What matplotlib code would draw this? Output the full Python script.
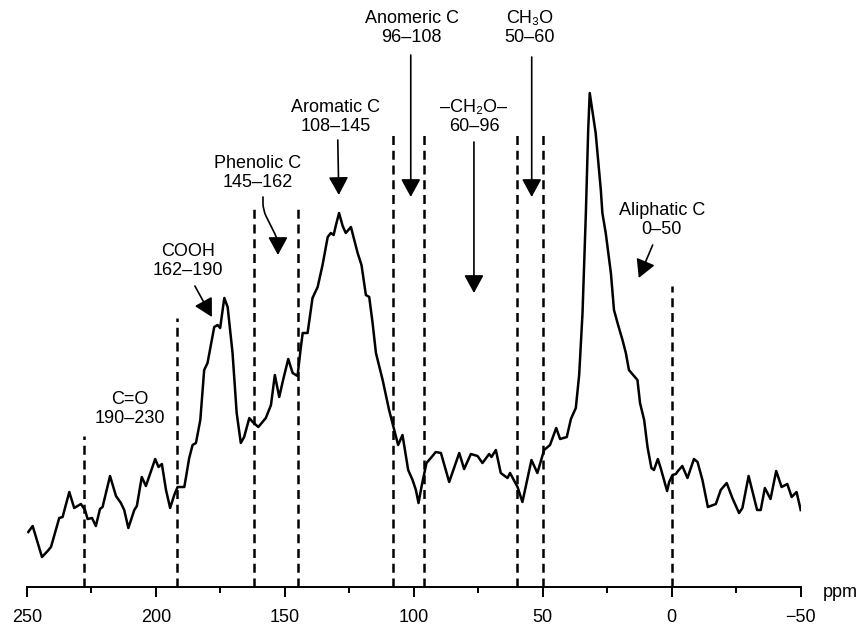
import numpy as np
import matplotlib
matplotlib.use("Agg")
import matplotlib.pyplot as plt
from matplotlib.ticker import MultipleLocator

plt.rcParams['font.family'] = ['Liberation Sans', 'DejaVu Sans']

# spectrum (chemical shift, intensity in arbitrary units)
ppm = [249.5, 247.8, 244.2, 242.0, 240.7, 237.5, 236.2, 233.6, 231.7, 229.1,
       227.5, 226.5, 224.8, 223.3, 221.7, 220.7, 217.8, 215.5, 213.6, 212.3,
       210.7, 208.4, 207.4, 205.5, 203.9, 200.3, 199.0, 197.7, 196.1, 194.5,
       192.9, 191.6, 189.0, 187.1, 185.8, 184.5, 182.8, 181.3, 180.0, 177.4,
       176.1, 175.1, 173.5, 172.2, 170.3, 168.7, 167.1, 165.8, 163.8, 162.5,
       160.3, 157.4, 155.4, 153.9, 152.2, 150.7, 148.7, 147.0, 145.1, 143.8,
       143.1, 141.2, 139.3, 137.3, 135.4, 133.4, 132.2, 131.1, 130.2, 129.0,
       127.6, 126.4, 124.4, 123.1, 121.8, 120.3, 118.6, 117.3, 116.0, 114.7,
       112.1, 109.6, 107.6, 106.1, 104.4, 102.2, 100.5, 99.2, 98.2, 96.9,
       95.1, 93.1, 91.5, 89.5, 86.3, 82.4, 80.5, 77.9, 75.3, 73.4,
       70.8, 69.9, 68.2, 66.3, 63.7, 62.7, 59.8, 57.9, 54.4, 52.1,
       49.5, 47.2, 44.8, 43.3, 40.7, 39.1, 37.2, 35.9, 34.6, 33.3,
       32.4, 31.8, 31.0, 29.5, 27.5, 26.9, 25.6, 23.6, 22.4, 20.8,
       19.1, 17.8, 16.6, 13.3, 12.3, 10.7, 9.4, 7.9, 6.9, 5.4,
       4.3, 1.8, 1.0, -0.3, -1.6, -2.4, -4.1, -6.1, -8.6, -10.0,
       -11.9, -14.0, -17.1, -19.0, -21.3, -23.5, -26.1, -27.4, -29.8, -33.1,
       -34.5, -36.1, -38.3, -40.5, -42.6, -44.8, -46.5, -48.4, -50.0]
intensity = [55, 61, 30, 36, 40, 69, 70, 95, 79, 83,
             77, 68, 69, 61, 78, 80, 111, 91, 84, 77,
             59, 77, 81, 110, 101, 128, 120, 123, 97, 79,
             92, 100, 100, 129, 142, 144, 167, 217, 224, 260,
             262, 259, 289, 280, 234, 174, 144, 150, 169, 165,
             160, 169, 182, 212, 190, 207, 228, 214, 211, 240,
             254, 254, 289, 300, 322, 350, 354, 352, 362, 374,
             361, 354, 360, 347, 334, 322, 292, 290, 264, 234,
             207, 177, 157, 142, 152, 117, 107, 97, 84, 102,
             124, 130, 135, 134, 105, 134, 118, 133, 131, 124,
             133, 130, 137, 114, 109, 114, 100, 85, 127, 114,
             137, 142, 159, 148, 150, 168, 179, 212, 274, 374,
             457, 494, 480, 454, 397, 374, 354, 314, 277, 262,
             247, 234, 217, 207, 184, 167, 140, 119, 117, 128,
             119, 96, 105, 112, 113, 116, 121, 109, 128, 125,
             107, 80, 83, 97, 104, 89, 74, 79, 111, 77,
             77, 99, 88, 116, 100, 103, 90, 95, 77]

# region boundaries and how high each dashed line reaches
boundaries = [228, 192, 162, 145, 108, 96, 60, 50, 0]
boundary_tops = [151, 269, 378, 382, 456, 456, 456, 456, 301]

# labels: text, text centre, arrow start, arrow tip
labels = [
    ("C=O\n190\u2013230", (210, 178), None, None),
    ("COOH\n162\u2013190", (187.6, 326), (184.9, 301), (178.3, 270)),
    ("Phenolic C\n145\u2013162", (160.5, 414), (158.5, 390), (152.7, 332)),
    ("Aromatic C\n108\u2013145", (130.2, 470), (129.5, 447), (129.1, 392)),
    ("Anomeric C\n96\u2013108", (100.8, 559), (101.2, 532), (101.2, 390)),
    ("\u2013CH\u2082O\u2013\n60\u201396", (76.7, 470), (76.7, 445), (76.7, 294)),
    ("CH\u2083O\n50\u201360", (55.0, 559), (54.3, 530), (54.3, 390)),
    ("Aliphatic C\n0\u201350", (3.9, 367), (7.4, 342), (12.8, 309)),
]

fig = plt.figure(figsize=(8.59, 6.26), dpi=100)
ax = fig.add_axes([27 / 859, 39 / 626, 773.7 / 859, 587 / 626])

ax.plot(ppm, intensity, color='black', lw=1.8, solid_joinstyle='round')
ax.vlines(boundaries, 0, boundary_tops, colors='black', lw=1.8,
          linestyles=(0, (3.6, 2.3)))

head = '-|>,head_length=11,head_width=6'
for text, (tx, ty), start, tip in labels:
    ax.text(tx, ty, text, ha='center', va='center', fontsize=13,
            multialignment='center', linespacing=1.2)
    if start is None:
        continue
    conn = 'arc3'
    if text.startswith('Phenolic'):
        conn = 'arc,angleA=-90,angleB=90,armA=13,armB=15,rad=7'
    ax.annotate('', xy=tip, xytext=start,
                arrowprops=dict(arrowstyle=head, mutation_scale=1,
                                color='black', lw=1.2, shrinkA=0, shrinkB=0,
                                connectionstyle=conn))

ax.set_xlim(250, -50)
ax.set_ylim(0, 587)
for side in ['left', 'right', 'top']:
    ax.spines[side].set_visible(False)
ax.spines['bottom'].set_linewidth(1.4)
ax.yaxis.set_visible(False)
ax.xaxis.set_major_locator(MultipleLocator(50))
ax.xaxis.set_minor_locator(MultipleLocator(25))
ax.tick_params(axis='x', which='major', direction='out', length=7.5,
               width=1.4, labelsize=13, pad=8)
ax.tick_params(axis='x', which='minor', direction='out', length=4.5, width=1.4)
ax.patch.set_visible(False)

fig.text(823 / 859, 1 - 597 / 626, 'ppm', ha='left', va='baseline', fontsize=13)

fig.savefig('out.png', dpi=100)
